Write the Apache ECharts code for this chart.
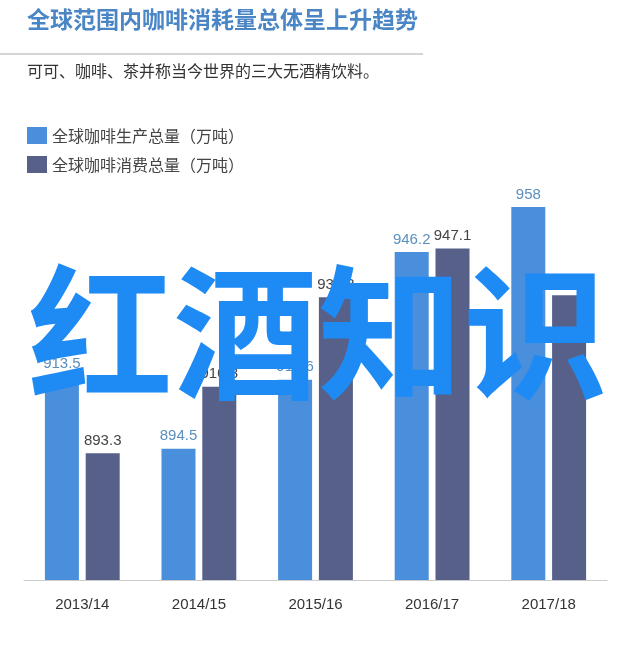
<!DOCTYPE html><html><head><meta charset="utf-8"><script src="https://cdn.jsdelivr.net/npm/echarts@6/dist/echarts.min.js"></script>
<style>body{margin:0;background:#fff}#c{width:640px;height:667px}</style></head><body><div id="c"></div><script>
const categories=['2013/14','2014/15','2015/16','2016/17','2017/18'];
const production=[913.5,894.5,912.6,946.2,958];
const consumption=[893.3,910.8,934.3,947.1,934.8];
const F='"Noto Sans CJK SC"';
const c=echarts.init(document.getElementById('c'));
c.setOption({
 animation:false,
 grid:{left:24,right:33,top:199.4,bottom:87},
 legend:{show:true,orient:'vertical',left:22,top:122,itemWidth:20,itemHeight:17,itemGap:12,icon:'rect',
  textStyle:{fontFamily:F,fontSize:16,color:'#444'},data:['全球咖啡生产总量（万吨）','全球咖啡消费总量（万吨）']},
 xAxis:{type:'category',data:categories,axisTick:{show:false},axisLine:{lineStyle:{color:'#ccc'}},
  axisLabel:{fontFamily:'Liberation Sans',fontSize:15,color:'#333',margin:17}},
 yAxis:{type:'value',min:860,max:960,show:false,splitLine:{show:false}},
 series:[
  {name:'全球咖啡生产总量（万吨）',type:'bar',data:production,barWidth:34,barGap:'20%',itemStyle:{color:'#4a8fdb'},
   label:{show:true,position:'top',fontFamily:'Liberation Sans',fontSize:15,color:'#5b8fc0'}},
  {name:'全球咖啡消费总量（万吨）',type:'bar',data:consumption,barWidth:34,itemStyle:{color:'#566089'},
   label:{show:true,position:'top',fontFamily:'Liberation Sans',fontSize:15,color:'#444'}}
 ],
 graphic:[
  {type:'text',left:27,top:8,style:{text:'全球范围内咖啡消耗量总体呈上升趋势',font:'bold 23px '+F,fill:'#4a86c5'}},
  {type:'line',shape:{x1:0,y1:54,x2:423,y2:54},style:{stroke:'#aaa',lineWidth:1}},
  {type:'text',left:27,top:63,style:{text:'可可、咖啡、茶并称当今世界的三大无酒精饮料。',font:'16px '+F,fill:'#333'}},
  {type:'text',x:318,y:333,z:100,style:{text:'红酒知识',font:'bold 145px '+F,fill:'#1e8bf5',textAlign:'center',textVerticalAlign:'middle'}}
 ]
});
</script></body></html>
